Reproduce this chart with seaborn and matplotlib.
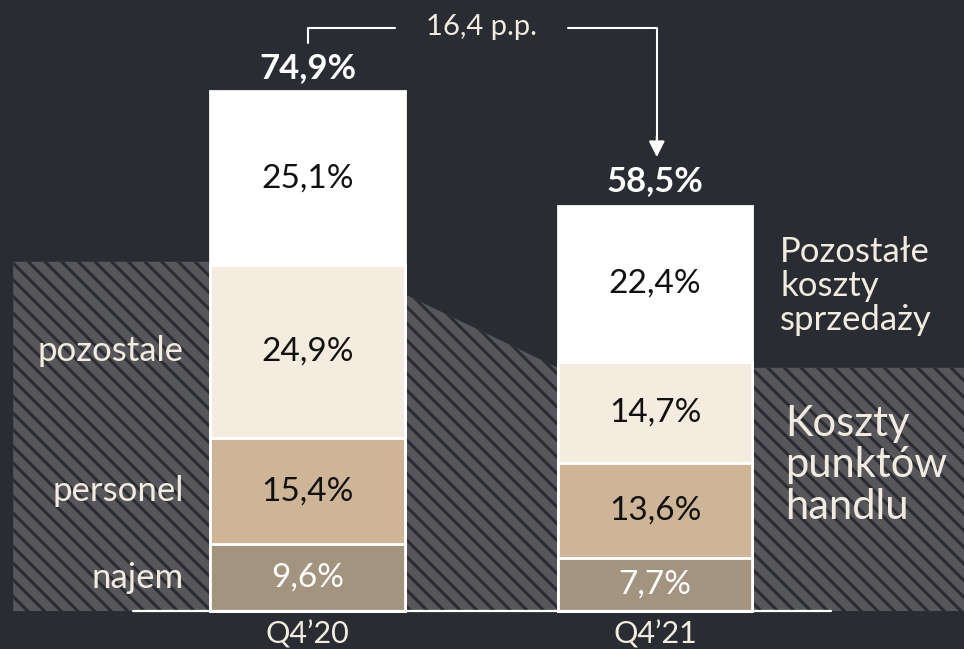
import numpy as np
import pandas as pd
import seaborn as sns
import matplotlib
matplotlib.use('Agg')
import matplotlib.pyplot as plt

# dane
kwartaly = ['Q4’20', 'Q4’21']
najem = [9.6, 7.7]
personel = [15.4, 13.6]
pozostale = [24.9, 14.7]
pozostale_koszty = [25.1, 22.4]
sumy = [74.9, 58.5]
roznica = '16,4 p.p.'

# tlo kreskowane (koszty punktow handlu)
tlo_x = [-0.847, 0.0, 0.28, 0.72, 1.889]
tlo_y = [50.4, 50.4, 45.7, 35.1, 35.1]

bg = '#2a2c33'
kolory = ['#a39480', '#cfb598', '#f5ece0', '#ffffff']
krem = '#f2ebdf'

sns.set_style('white')
plt.rcParams['font.family'] = ['Lato', 'DejaVu Sans']
plt.rcParams['hatch.linewidth'] = 2.2

fig = plt.figure(figsize=(9.64, 6.49), dpi=100, facecolor=bg)
ax = fig.add_axes([0, 0, 1, 1])
ax.set_facecolor(bg)

# kreskowany obszar za slupkami
ax.fill_between(tlo_x, 0, tlo_y, facecolor='#57575b', edgecolor=bg,
                hatch='\\\\', linewidth=0, zorder=1)

# slupki skumulowane - od najwyzszego do najnizszego
warstwy = [najem, personel, pozostale, pozostale_koszty]
cum = np.cumsum(np.array(warstwy), axis=0)
for i in range(len(warstwy) - 1, -1, -1):
    df = pd.DataFrame({'q': kwartaly, 'v': cum[i]})
    sns.barplot(data=df, x='q', y='v', color=kolory[i], saturation=1,
                width=0.56, edgecolor='white', linewidth=2, ax=ax, zorder=3)

# podpisy wartosci
for j in range(2):
    dol = 0
    for i, w in enumerate(warstwy):
        kol = 'white' if i == 0 else '#111111'
        ax.text(j, dol + w[j] / 2, f'{w[j]:.1f}%'.replace('.', ','),
                ha='center', va='center', fontsize=24, color=kol, zorder=5)
        dol += w[j]
    ax.text(j, sumy[j] + 3.5, f'{sumy[j]:.1f}%'.replace('.', ','),
            ha='center', va='center', fontsize=25, fontweight='bold',
            color='white', zorder=5)
    ax.text(j, -3.4, kwartaly[j], ha='center', va='center', fontsize=22,
            color=krem, zorder=5)

# etykiety po lewej
mid = [najem[0] / 2, najem[0] + personel[0] / 2,
       najem[0] + personel[0] + pozostale[0] / 2]
for lab, y in zip(['najem', 'personel', 'pozostale'], mid):
    ax.text(-0.357, y, lab, ha='right', va='center', fontsize=25,
            color=krem, zorder=5)

# etykiety po prawej
ax.text(1.36, cum[2][1] + pozostale_koszty[1] / 2 - 0.3, 'Pozostałe\nkoszty\nsprzedaży',
        ha='left', va='center', fontsize=25, color=krem, linespacing=1.08, zorder=5)
ax.text(1.375, 21.0, 'Koszty\npunktów\nhandlu', ha='left', va='center',
        fontsize=30, color=krem, linespacing=1.1, zorder=5)

# linia bazowa
ax.plot([-0.502, 1.506], [0, 0], color='white', lw=1.6, zorder=4)

# klamra z roznica
ax.plot([0, 0, 0.252], [82.0, 84.2, 84.2], color='white', lw=1.5, zorder=4)
ax.plot([0.75, 1.005, 1.005], [84.2, 84.2, 68.0], color='white', lw=1.5, zorder=4)
ax.annotate('', xy=(1.005, 65.5), xytext=(1.005, 68.5),
            arrowprops=dict(arrowstyle='-|>', color='white', lw=1.5,
                            mutation_scale=24, shrinkA=0, shrinkB=0), zorder=4)
ax.text(0.502, 84.3, roznica, ha='center', va='center', fontsize=21,
        color=krem, zorder=5)

ax.set_xlim(-0.885, 1.889)
ax.set_ylim(-5.48, 88.17)
ax.set_xlabel('')
ax.set_ylabel('')
ax.set_xticks([])
ax.set_yticks([])
for s in ax.spines.values():
    s.set_visible(False)

fig.savefig('out.png', dpi=100, facecolor=bg)
